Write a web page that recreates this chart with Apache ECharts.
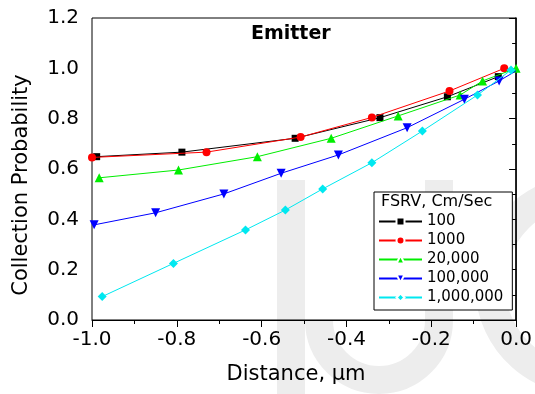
<!DOCTYPE html>
<html>
<head>
<meta charset="utf-8">
<script src="https://cdn.jsdelivr.net/npm/echarts@6/dist/echarts.min.js"></script>
<style>html,body{margin:0;padding:0;background:#fff}#c{width:535px;height:394px}</style>
</head>
<body>
<div id="c"></div>
<script>
// ---- data ----
const seriesNames = ['100', '1000', '20,000', '100,000', '1,000,000'];
const x100 = [-0.989, -0.788, -0.521, -0.321, -0.162, -0.042];
const y100 = [0.649, 0.667, 0.722, 0.804, 0.887, 0.967];
const x1000 = [-1.0, -0.730, -0.508, -0.340, -0.157, -0.028];
const y1000 = [0.646, 0.667, 0.727, 0.805, 0.910, 1.0];
const x20000 = [-0.983, -0.796, -0.610, -0.436, -0.278, -0.132, -0.079, 0.0];
const y20000 = [0.565, 0.596, 0.649, 0.722, 0.811, 0.894, 0.950, 1.0];
const x100000 = [-0.995, -0.850, -0.689, -0.554, -0.419, -0.257, -0.122, -0.040, 0.0];
const y100000 = [0.378, 0.426, 0.501, 0.583, 0.656, 0.764, 0.877, 0.950, 0.99];
const x1000000 = [-0.976, -0.808, -0.638, -0.544, -0.456, -0.340, -0.221, -0.091, -0.012];
const y1000000 = [0.093, 0.225, 0.358, 0.437, 0.521, 0.625, 0.751, 0.894, 0.993];
const xTicks = [-1.0, -0.8, -0.6, -0.4, -0.2, 0.0];
const yTicks = [0.0, 0.2, 0.4, 0.6, 0.8, 1.0, 1.2];

const FONT = 'DejaVu Sans';
const colors = ['#000000', '#ff0000', '#00ee00', '#0000ff', '#00e8f0'];
const symbols = ['rect', 'circle', 'triangle', 'path://M0,0 L10,0 L5,10 Z', 'diamond'];
const sizes = [7, 8, 9, 9, 9];
const xs = [x100, x1000, x20000, x100000, x1000000];
const ys = [y100, y1000, y20000, y100000, y1000000];

const series = seriesNames.map((name, i) => ({
  name: name,
  type: 'line',
  data: xs[i].map((x, j) => {
    const pt = { value: [x, ys[i][j]] };
    if (i === 3 && j === xs[i].length - 1) pt.symbol = 'none';
    return pt;
  }),
  symbol: symbols[i],
  symbolSize: sizes[i],
  showSymbol: true,
  lineStyle: { color: colors[i], width: 1 },
  itemStyle: { color: colors[i] },
  z: 2 + i,
  animation: false
}));

const wm = '#ededed';
const chart = echarts.init(document.getElementById('c'), null, { renderer: 'canvas' });
chart.setOption({
  animation: false,
  backgroundColor: '#fff',
  title: {
    text: 'Emitter', left: 251, top: 25, padding: 0,
    textStyle: { fontFamily: FONT, fontWeight: 'bold', fontSize: 19, color: '#000' }
  },
  grid: { left: 92, right: 18, top: 18, bottom: 74, show: true, borderColor: '#000', borderWidth: 1, backgroundColor: 'transparent' },
  xAxis: {
    type: 'value', min: -1.0, max: 0.0, interval: 0.2,
    name: 'Distance, \u03bcm', nameLocation: 'middle', nameGap: 44,
    nameTextStyle: { fontFamily: FONT, fontSize: 21, color: '#000', padding: [0, 16, 0, 0] },
    axisLine: { show: true, onZero: false, lineStyle: { color: '#000', width: 1 } },
    axisTick: { show: true, inside: false, length: 7, lineStyle: { color: '#000' } },
    minorTick: { show: true, splitNumber: 2, length: 4, lineStyle: { color: '#000' } },
    splitLine: { show: false },
    axisLabel: { fontFamily: FONT, fontSize: 20, color: '#000', margin: 10,
      formatter: v => { const t = xTicks.find(k => Math.abs(k - v) < 1e-9); return (t === undefined ? v : t).toFixed(1); } }
  },
  yAxis: {
    type: 'value', min: 0, max: 1.2, interval: 0.2,
    name: 'Collection Probability', nameLocation: 'middle', nameGap: 60,
    nameTextStyle: { fontFamily: FONT, fontSize: 21, color: '#000', padding: [0, 32, 0, 0] },
    axisLine: { show: true, lineStyle: { color: '#000', width: 1.5 } },
    axisTick: { show: true, inside: false, length: 7, lineStyle: { color: '#000' } },
    minorTick: { show: true, splitNumber: 2, length: 4, lineStyle: { color: '#000' } },
    splitLine: { show: false },
    axisLabel: { fontFamily: FONT, fontSize: 20, color: '#000', margin: 13,
      formatter: v => { const t = yTicks.find(k => Math.abs(k - v) < 1e-9); return (t === undefined ? v : t).toFixed(1); } }
  },
  legend: {
    data: seriesNames,
    orient: 'vertical', left: 374, top: 192,
    padding: [22, 9, 5, 4],
    itemWidth: 43, itemHeight: 10, itemGap: 4,
    borderColor: '#000', borderWidth: 1, backgroundColor: '#fff',
    textStyle: { fontFamily: FONT, fontSize: 15, color: '#000', lineHeight: 15 },
    itemStyle: { borderColor: '#fff', borderWidth: 2 }
  },
  graphic: [
    { type: 'rect', z: -100, silent: true, shape: { x: 277, y: 180, width: 28, height: 214 }, style: { fill: wm } },
    { type: 'rect', z: -100, silent: true, shape: { x: 425, y: 180, width: 28, height: 140 }, style: { fill: wm } },
    { type: 'arc', z: -100, silent: true, shape: { cx: 379, cy: 320, r: 60, startAngle: 0, endAngle: Math.PI, clockwise: true }, style: { stroke: wm, lineWidth: 28, fill: null } },
    { type: 'arc', z: -100, silent: true, shape: { cx: 585, cy: 285, r: 95, startAngle: 110 * Math.PI / 180, endAngle: 250 * Math.PI / 180, clockwise: true }, style: { stroke: wm, lineWidth: 30, fill: null } },
    { type: 'text', z: 100, left: 381, top: 194, style: { text: 'FSRV, Cm/Sec', fontFamily: FONT, fontSize: 16, fill: '#000' } }
  ],
  series: series
});
</script>
</body>
</html>
